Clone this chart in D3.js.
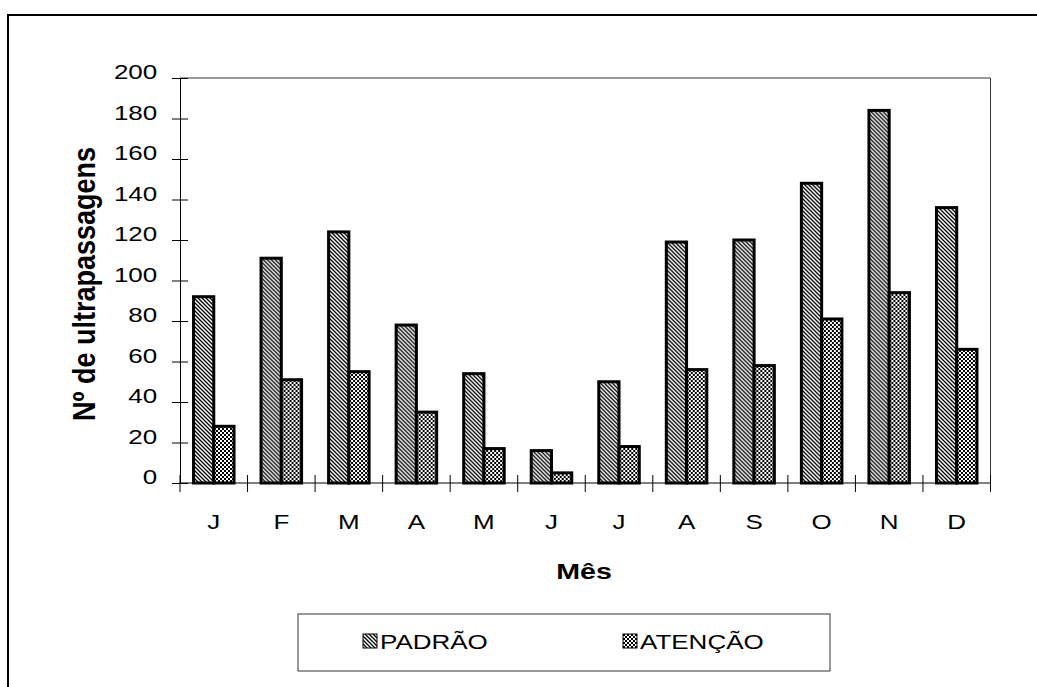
<!DOCTYPE html>
<html>
<head>
<meta charset="utf-8">
<script src="https://cdn.jsdelivr.net/npm/d3@7"></script>
<style>
  body { margin: 0; background: #fff; }
  svg { display: block; }
  text { font-family: "Liberation Sans", Arial, sans-serif; fill: #000; }
</style>
</head>
<body>
<svg id="chart" width="1037" height="687"></svg>
<script>
// Monthly exceedance counts, two alert levels
const months  = ["J", "F", "M", "A", "M", "J", "J", "A", "S", "O", "N", "D"];
const padrao  = [92, 111, 124, 78, 54, 16, 50, 119, 120, 148, 184, 136];
const atencao = [28, 51, 55, 35, 17, 5, 18, 56, 58, 81, 94, 66];
const yTicks  = [0, 20, 40, 60, 80, 100, 120, 140, 160, 180, 200];
const seriesNames = ["PADRÃO", "ATENÇÃO"];
const xTitle = "Mês";
const yTitle = "Nº de ultrapassagens";

const svg = d3.select("#chart");
const plot = { left: 180, right: 990.5, top: 78, bottom: 483 };
const SX = 1.3; // horizontal widening of the lettering

// ---- fill patterns ----
const defs = svg.append("defs");
const hatch = defs.append("pattern").attr("id", "pat-padrao")
  .attr("patternUnits", "userSpaceOnUse").attr("width", 4).attr("height", 4);
hatch.append("rect").attr("width", 4).attr("height", 4).attr("fill", "#fff");
hatch.append("path").attr("d", "M0,0L4,4M-1,3L1,5M3,-1L5,1")
  .attr("stroke", "#000").attr("stroke-width", 1.3);

const check = defs.append("pattern").attr("id", "pat-atencao")
  .attr("patternUnits", "userSpaceOnUse").attr("width", 4).attr("height", 4);
check.append("rect").attr("width", 4).attr("height", 4).attr("fill", "#000");
check.append("rect").attr("x", 0).attr("y", 0).attr("width", 2).attr("height", 2).attr("fill", "#fff");
check.append("rect").attr("x", 2).attr("y", 2).attr("width", 2).attr("height", 2).attr("fill", "#fff");

const fills = ["url(#pat-padrao)", "url(#pat-atencao)"];

// ---- outer frame (top and left edges) ----
svg.append("path").attr("d", "M8,687V15H1037")
  .attr("fill", "none").attr("stroke", "#000").attr("stroke-width", 2);

// ---- scales ----
const x = d3.scaleBand().domain(d3.range(months.length))
  .range([plot.left, plot.right]).paddingInner(0).paddingOuter(0);
const xs = d3.scaleBand().domain([0, 1])
  .range([0, x.bandwidth()]).paddingInner(0).paddingOuter(0.667);
const y = d3.scaleLinear().domain([0, 200]).range([plot.bottom, plot.top]);

// ---- plot-area border (top and right) ----
svg.append("path")
  .attr("d", `M${plot.left},${y(200)}H${plot.right}V${plot.bottom}`)
  .attr("fill", "none").attr("stroke", "#333").attr("stroke-width", 1);

// ---- y axis ----
const yAxis = svg.append("g").attr("transform", `translate(${plot.left},0)`)
  .call(d3.axisLeft(y).tickValues(yTicks).tickSize(8).tickPadding(9.5));
yAxis.select(".domain").attr("stroke", "#000");
yAxis.selectAll(".tick line").attr("x1", 8).attr("x2", -8).attr("stroke", "#000");
yAxis.selectAll(".tick text")
  .attr("font-size", 20).attr("font-family", "Liberation Sans, Arial, sans-serif")
  .attr("dy", "0.04em")
  .attr("transform", `scale(${SX},1)`);

// ---- x axis: labels centred in each month, ticks on month boundaries ----
const xAxis = svg.append("g").attr("transform", `translate(0,${plot.bottom})`)
  .call(d3.axisBottom(x).tickFormat(i => months[i]).tickSize(0).tickPadding(32));
xAxis.select(".domain").attr("stroke", "#000")
  .attr("d", `M${plot.left},0H${plot.right}`);
xAxis.selectAll(".tick text")
  .attr("font-size", 20).attr("font-family", "Liberation Sans, Arial, sans-serif")
  .attr("transform", `scale(${SX},1)`);

const bounds = x.domain().map(i => x(i)).concat([plot.right]);
xAxis.append("g").selectAll("line").data(bounds).join("line")
  .attr("x1", d => d).attr("x2", d => d)
  .attr("y1", -8).attr("y2", 9)
  .attr("stroke", "#000").attr("stroke-width", 1);

// ---- bars ----
const series = [padrao, atencao];
const groups = svg.append("g").selectAll("g").data(months.map((m, i) => i)).join("g")
  .attr("transform", i => `translate(${x(i)},0)`);
groups.selectAll("rect")
  .data(i => series.map((s, k) => ({ k, v: s[i] })))
  .join("rect")
  .attr("x", d => xs(d.k))
  .attr("width", xs.bandwidth())
  .attr("y", d => y(d.v))
  .attr("height", d => y(0) - y(d.v))
  .attr("fill", d => fills[d.k])
  .attr("stroke", "#000").attr("stroke-width", 3);

// ---- axis titles ----
svg.append("text")
  .attr("transform", `translate(584,579) scale(${SX},1)`)
  .attr("text-anchor", "middle").attr("font-size", 22).attr("font-weight", "bold")
  .text(xTitle);

svg.append("text")
  .attr("transform", `translate(95,284) scale(1.17,1) rotate(-90)`)
  .attr("text-anchor", "middle").attr("font-size", 27).attr("font-weight", "bold")
  .text(yTitle);

// ---- legend ----
const legend = svg.append("g");
legend.append("rect").attr("x", 298).attr("y", 614).attr("width", 532).attr("height", 57)
  .attr("fill", "#fff").attr("stroke", "#333").attr("stroke-width", 1);
const legendX = [363, 623];
const item = legend.selectAll("g.item").data(seriesNames).join("g").attr("class", "item")
  .attr("transform", (d, k) => `translate(${legendX[k]},0)`);
item.append("rect").attr("x", 0).attr("y", 634).attr("width", 14).attr("height", 14)
  .attr("fill", (d, k) => fills[k]).attr("stroke", "#000").attr("stroke-width", 1);
item.append("text")
  .attr("transform", `translate(17,649) scale(${SX},1)`)
  .attr("font-size", 20)
  .text(d => d);
</script>
</body>
</html>
